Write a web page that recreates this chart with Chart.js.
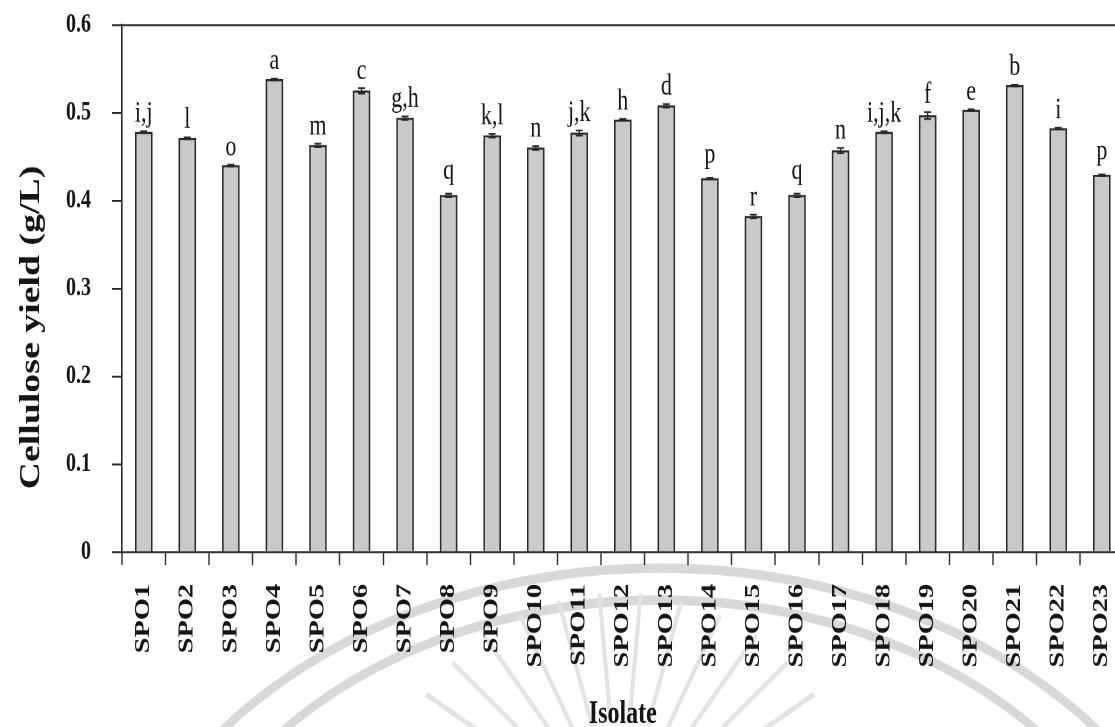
<!DOCTYPE html>
<html>
<head>
<meta charset="utf-8">
<title>Cellulose yield by isolate</title>
<script src="https://cdn.jsdelivr.net/npm/chart.js@4.4.1/dist/chart.umd.min.js"></script>
<style>
  html, body { margin: 0; padding: 0; background: #ffffff; overflow: hidden; width: 1115px; height: 727px; }
  /* the figure is drawn on a short canvas and stretched vertically to its printed proportions */
  #stage { position: absolute; left: 0; top: 0; width: 1130px; height: 538px; transform-origin: 0 0; transform: scaleY(1.35130); }
</style>
</head>
<body>
<div id="stage"><canvas id="chart" width="1130" height="538"></canvas></div>
<script>
// Isolates tested
const isolates = ['SPO1', 'SPO2', 'SPO3', 'SPO4', 'SPO5', 'SPO6', 'SPO7', 'SPO8', 'SPO9', 'SPO10',
  'SPO11', 'SPO12', 'SPO13', 'SPO14', 'SPO15', 'SPO16', 'SPO17', 'SPO18', 'SPO19', 'SPO20',
  'SPO21', 'SPO22', 'SPO23'];

// Mean cellulose yield (g/L)
const yieldMean = [0.478, 0.471, 0.440, 0.538, 0.463, 0.525, 0.494, 0.406, 0.474, 0.460,
  0.477, 0.492, 0.508, 0.425, 0.382, 0.406, 0.457, 0.478, 0.497, 0.503,
  0.531, 0.482, 0.429];

// Standard deviation of the yield (g/L)
const yieldSD = [0.001, 0.001, 0.001, 0.001, 0.002, 0.003, 0.002, 0.002, 0.002, 0.002,
  0.003, 0.001, 0.002, 0.001, 0.002, 0.002, 0.003, 0.001, 0.004, 0.001,
  0.001, 0.001, 0.001];

// Significance groups (Duncan letters)
const groupLetters = ['i,j', 'l', 'o', 'a', 'm', 'c', 'g,h', 'q', 'k,l', 'n',
  'j,k', 'h', 'd', 'p', 'r', 'q', 'n', 'i,j,k', 'f', 'e',
  'b', 'i', 'p'];

// Y axis ticks
const yTicks = [0, 0.1, 0.2, 0.3, 0.4, 0.5, 0.6];

const SERIF = '"Liberation Serif", "Times New Roman", Times, serif';
const INK = '#151515';
const LINE = '#2a2a2a';
const STRETCH = 727 / 538;   // vertical stretch applied to the canvas

Chart.defaults.font.family = SERIF;

// faint institutional seal printed behind the lower part of the page
const seal = {
  id: 'seal',
  beforeDraw(chart) {
    const ctx = chart.ctx;
    const cx = 660, cy = 1000 / STRETCH;
    ctx.save();
    ctx.strokeStyle = '#d8d8d8';
    ctx.lineWidth = 7;
    [[560, 432], [510, 400]].forEach(([a, b]) => {
      ctx.beginPath();
      ctx.ellipse(cx, cy, a, b / STRETCH, 0, Math.PI, Math.PI * 2);
      ctx.stroke();
    });
    // rays of the seal
    const rx = 620, ry = 830;
    ctx.strokeStyle = '#e3e3e3';
    ctx.lineCap = 'round';
    ctx.lineWidth = 4;
    for (let a = -165; a <= -15; a += 10) {
      const t = a * Math.PI / 180;
      ctx.beginPath();
      ctx.moveTo(rx + Math.cos(t) * 110, (ry + Math.sin(t) * 110) / STRETCH);
      ctx.lineTo(rx + Math.cos(t) * 235, (ry + Math.sin(t) * 235) / STRETCH);
      ctx.stroke();
    }
    ctx.restore();
  }
};

// error bars and group letters above each bar
const errorBarsAndLetters = {
  id: 'errorBarsAndLetters',
  afterDatasetsDraw(chart) {
    const ctx = chart.ctx;
    const y = chart.scales.y;
    const meta = chart.getDatasetMeta(0);
    ctx.save();
    ctx.strokeStyle = LINE;
    ctx.lineWidth = 1.3;
    ctx.fillStyle = INK;
    ctx.font = '22px ' + SERIF;
    ctx.textAlign = 'center';
    ctx.textBaseline = 'alphabetic';
    meta.data.forEach((bar, i) => {
      const hi = y.getPixelForValue(yieldMean[i] + yieldSD[i]);
      const lo = y.getPixelForValue(yieldMean[i] - yieldSD[i]);
      ctx.beginPath();
      ctx.moveTo(bar.x, hi); ctx.lineTo(bar.x, lo);
      ctx.moveTo(bar.x - 3.5, hi); ctx.lineTo(bar.x + 3.5, hi);
      ctx.moveTo(bar.x - 3.5, lo); ctx.lineTo(bar.x + 3.5, lo);
      ctx.stroke();
      const label = groupLetters[i];
      const lift = /^[pq]$/.test(label) ? 11 : 7;
      ctx.fillText(label, bar.x, hi - lift);
    });
    ctx.restore();
  }
};

// axis titles: rotated y title a little below the axis middle, x title near the page foot
const axisTitles = {
  id: 'axisTitles',
  afterDraw(chart) {
    const ctx = chart.ctx;
    const area = chart.chartArea;
    ctx.save();
    ctx.fillStyle = INK;
    ctx.textAlign = 'center';
    ctx.textBaseline = 'alphabetic';
    ctx.font = 'bold 24px ' + SERIF;
    ctx.fillText('Isolate', (area.left + area.right) / 2, 723 / STRETCH);
    ctx.translate(39, area.top + (area.bottom - area.top) * 0.574);
    ctx.rotate(-Math.PI / 2);
    ctx.font = 'bold 28px ' + SERIF;
    ctx.fillText('Cellulose yield (g/L)', 0, 0);
    ctx.restore();
  }
};

new Chart(document.getElementById('chart'), {
  type: 'bar',
  data: {
    labels: isolates,
    datasets: [{
      data: yieldMean,
      backgroundColor: '#c9c9c9',
      borderColor: LINE,
      borderWidth: 1.6,
      barThickness: 17
    }]
  },
  options: {
    responsive: false,
    animation: false,
    devicePixelRatio: 2,
    layout: { padding: { top: 18.5, right: 6.4, bottom: 0, left: 0 } },
    plugins: { legend: { display: false }, tooltip: { enabled: false } },
    scales: {
      x: {
        offset: true,
        grid: {
          offset: true,
          drawOnChartArea: false,
          drawTicks: true,
          tickLength: 9.6,
          tickColor: LINE,
          tickWidth: 1.4,
          color: 'transparent'
        },
        border: { display: true, color: LINE, width: 1.4 },
        ticks: {
          autoSkip: false,
          minRotation: 90,
          maxRotation: 90,
          padding: 14,
          color: INK,
          font: { family: SERIF, size: 21, weight: 'bold' }
        },
        afterFit(s) {
          s.height = 129.5;
          s.paddingLeft = 0;
          s.paddingRight = 0;
        }
      },
      y: {
        min: 0,
        max: 0.6,
        afterBuildTicks(s) { s.ticks = yTicks.map(v => ({ value: v })); },
        grid: {
          color: c => (c.tick && c.tick.value >= 0.6 - 1e-9) ? LINE : 'transparent',
          lineWidth: 1.4,
          drawTicks: true,
          tickLength: 10,
          tickColor: LINE,
          tickWidth: 1.4
        },
        border: { display: true, color: LINE, width: 1.6 },
        ticks: {
          padding: 21,
          color: INK,
          font: { family: SERIF, size: 20, weight: 'bold' },
          callback: v => String(v)
        },
        afterFit(s) {
          s.width = 122;
          s.paddingTop = 0;
          s.paddingBottom = 0;
        }
      }
    }
  },
  plugins: [seal, errorBarsAndLetters, axisTitles]
});
</script>
</body>
</html>
